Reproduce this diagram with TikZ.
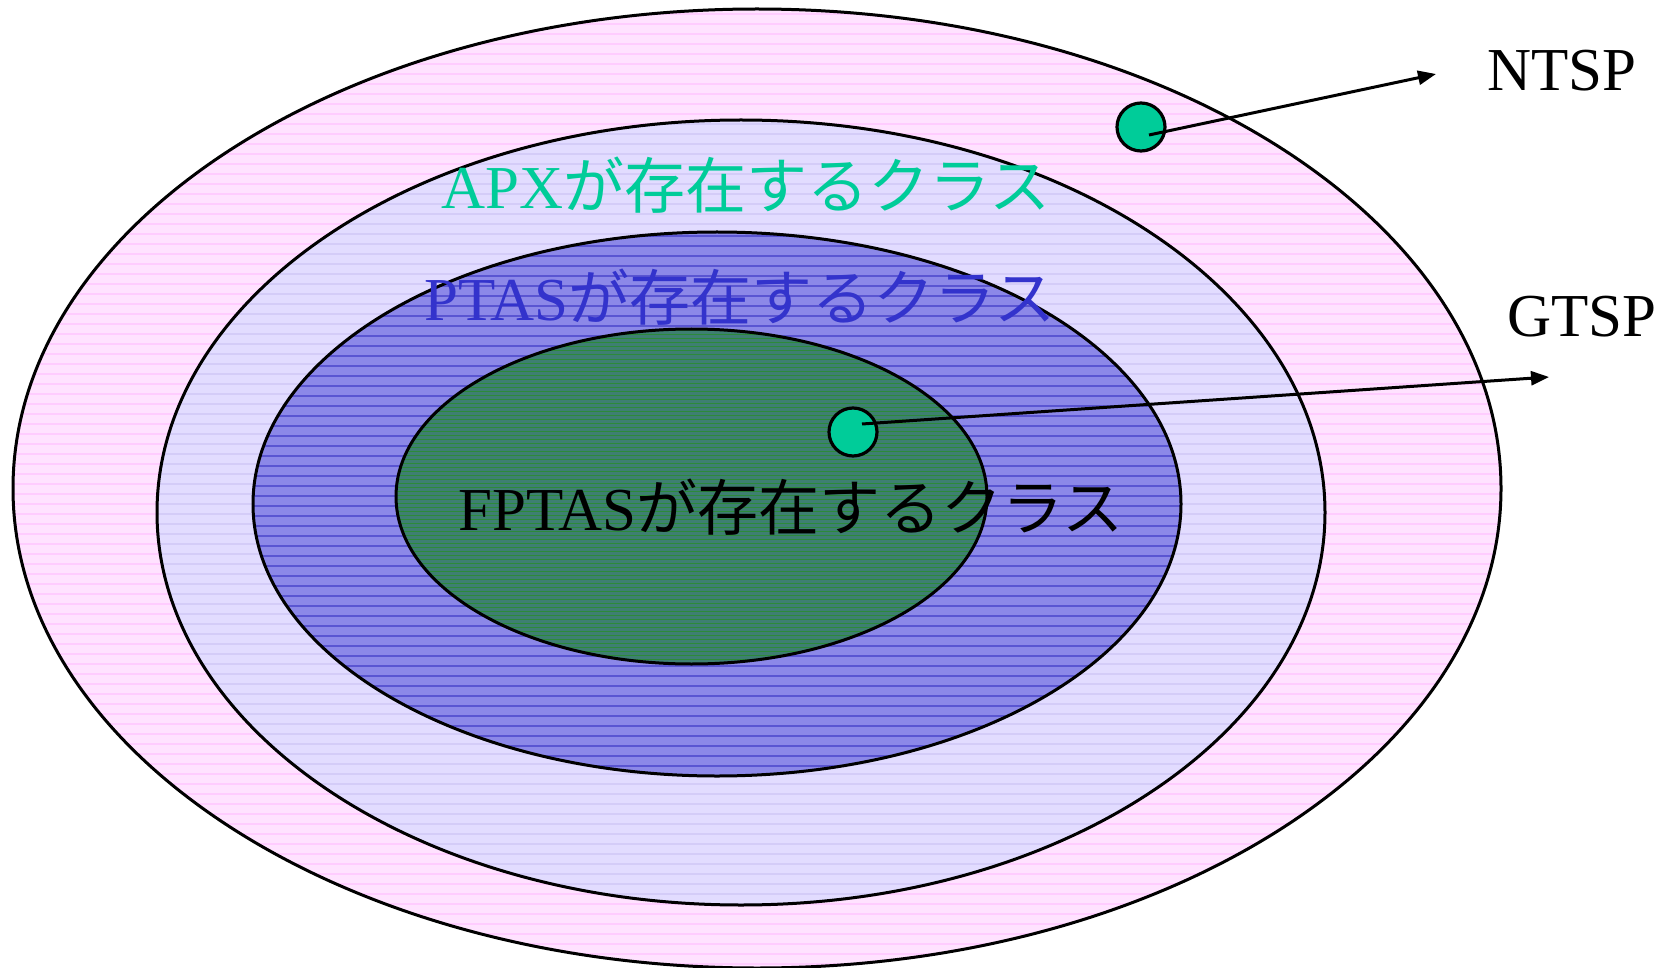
\documentclass[tikz,border=0pt]{standalone}
\usepackage{fontspec}
\setmainfont{Liberation Serif}
\newfontfamily\jp{Noto Sans CJK JP}
\usetikzlibrary{arrows.meta}
\definecolor{pinkbg}{HTML}{FFE2FF}
\definecolor{pinkln}{HTML}{FFCCFF}
\definecolor{lavbg}{HTML}{E2DCFF}
\definecolor{lavln}{HTML}{D4CCF8}
\definecolor{bluebg}{HTML}{8C88E8}
\definecolor{blueln}{HTML}{5A55D2}
\definecolor{greenbg}{HTML}{3E7F72}
\definecolor{greenln}{HTML}{2C8A3A}
\definecolor{dotc}{HTML}{00CC99}
\definecolor{apxc}{HTML}{00CC99}
\definecolor{ptasc}{HTML}{3333CC}
\tikzset{
  ring/.style={draw=black, line width=3pt},
  lbl/.style={inner sep=0pt, anchor=base, font=\fontsize{61}{72}\selectfont},
  dotnode/.style={circle, draw=black, line width=3.2pt, fill=dotc, minimum size=48pt, inner sep=0pt},
  conn/.style={line width=3pt, -{Triangle[length=18pt,width=14pt]}}
}
\begin{document}
\begin{tikzpicture}[x=1pt,y=-1pt]
\useasboundingbox (0,0) rectangle (1679,968);
% outer ellipse
\fill[pinkbg] (757,488.5) ellipse [x radius=744, y radius=479.5];
\begin{scope}
\clip (757,488.5) ellipse [x radius=744, y radius=479.5];
\foreach \yy in {14,24,...,968} \draw[pinkln, line width=1.5pt] (0,\yy) -- (1679,\yy);
\end{scope}
\draw[ring] (757,488.5) ellipse [x radius=744, y radius=479.5];
% second ellipse
\fill[lavbg] (741,512.5) ellipse [x radius=584, y radius=392.5];
\begin{scope}
\clip (741,512.5) ellipse [x radius=584, y radius=392.5];
\foreach \yy in {124,134,...,905} \draw[lavln, line width=1.5pt] (0,\yy) -- (1679,\yy);
\end{scope}
\draw[ring] (741,512.5) ellipse [x radius=584, y radius=392.5];
% third ellipse
\fill[bluebg] (717,504) ellipse [x radius=464, y radius=272];
\begin{scope}
\clip (717,504) ellipse [x radius=464, y radius=272];
\foreach \yy in {236,246,...,776} \draw[blueln, line width=1.5pt] (0,\yy) -- (1679,\yy);
\end{scope}
\draw[ring] (717,504) ellipse [x radius=464, y radius=272];
% fourth ellipse
\fill[greenbg] (691.5,496.5) ellipse [x radius=295.5, y radius=167.5];
\begin{scope}
\clip (691.5,496.5) ellipse [x radius=295.5, y radius=167.5];
\foreach \yy in {331,335,...,664} \draw[greenln, line width=1pt] (0,\yy) -- (1679,\yy);
\end{scope}
\draw[ring] (691.5,496.5) ellipse [x radius=295.5, y radius=167.5];
% labels
\node[lbl, text=apxc] (apx) at (746,209) {APX{\jp が存在するクラス}};
\node[lbl, text=ptasc] (ptas) at (740,321) {PTAS{\jp が存在するクラス}};
\node[lbl, text=black] (fptas) at (791,530) {FPTAS{\jp が存在するクラス}};
\node[lbl] (ntsp) at (1562,91) {NTSP};
\node[lbl] (gtsp) at (1582,337) {GTSP};
% dots
\node[dotnode] (ndot) at (1141,127) {};
\node[dotnode] (gdot) at (853,432) {};
\coordinate (nend) at (1436,74);
\coordinate (gend) at (1549,377);
\draw[conn] (ndot.center) ++(8,8) -- (nend);
\draw[conn] (gdot.center) ++(9,-8) -- (gend);
\end{tikzpicture}
\end{document}
